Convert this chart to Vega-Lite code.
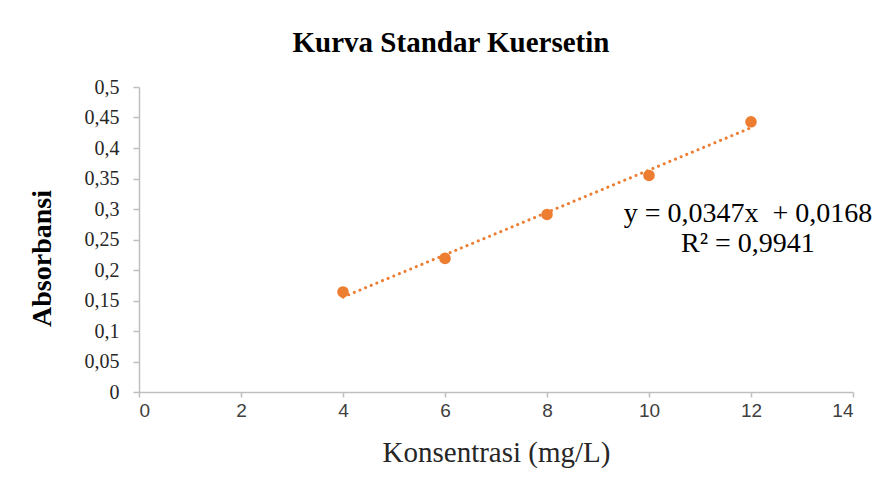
{
  "$schema": "https://vega.github.io/schema/vega-lite/v6.json",
  "autosize": "none",
  "width": 714,
  "height": 305,
  "padding": {"left": 139, "top": 87, "right": 30, "bottom": 94},
  "background": "white",
  "config": {"view": {"stroke": null}},
  "title": {
    "text": "Kurva Standar Kuersetin",
    "font": "Liberation Serif",
    "fontSize": 29,
    "fontWeight": "bold",
    "color": "#000000",
    "anchor": "middle",
    "dx": -45,
    "offset": 19
  },
  "datasets": {
    "points": [
      {"konsentrasi": 4, "absorbansi": 0.164},
      {"konsentrasi": 6, "absorbansi": 0.219},
      {"konsentrasi": 8, "absorbansi": 0.291},
      {"konsentrasi": 10, "absorbansi": 0.355},
      {"konsentrasi": 12, "absorbansi": 0.443}
    ],
    "labels": [
      {"konsentrasi": 11.94, "absorbansi": 0.292, "label": "y = 0,0347x \u00a0+ 0,0168"},
      {"konsentrasi": 11.94, "absorbansi": 0.243, "label": "R² = 0,9941"}
    ]
  },
  "encoding": {
    "x": {
      "field": "konsentrasi",
      "type": "quantitative",
      "scale": {"domain": [0, 14], "nice": false},
      "axis": {
        "values": [0, 2, 4, 6, 8, 10, 12, 14],
        "title": "Konsentrasi (mg/L)",
        "grid": false,
        "labelOverlap": false,
        "domainColor": "#BFBFBF",
        "domainWidth": 1.5,
        "tickColor": "#BFBFBF",
        "tickWidth": 1.5,
        "tickSize": 5,
        "labelFont": "Liberation Sans",
        "labelFontSize": 19,
        "labelColor": "#404040",
        "labelPadding": 4,
        "titleFont": "Liberation Serif",
        "titleFontSize": 29,
        "titleFontWeight": "normal",
        "titleColor": "#262626",
        "titlePadding": 18
      }
    },
    "y": {
      "field": "absorbansi",
      "type": "quantitative",
      "scale": {"domain": [0, 0.5], "nice": false},
      "axis": {
        "values": [0, 0.05, 0.1, 0.15, 0.2, 0.25, 0.3, 0.35, 0.4, 0.45, 0.5],
        "labelExpr": "replace(toString(datum.value), '.', ',')",
        "title": "Absorbansi",
        "grid": false,
        "labelOverlap": false,
        "domainColor": "#BFBFBF",
        "domainWidth": 1.5,
        "tickColor": "#BFBFBF",
        "tickWidth": 1.5,
        "tickSize": 6,
        "labelFont": "Liberation Serif",
        "labelFontSize": 20,
        "labelColor": "#262626",
        "labelPadding": 14,
        "titleFont": "Liberation Serif",
        "titleFontSize": 28,
        "titleFontWeight": "bold",
        "titleColor": "#000000",
        "titleY": 171,
        "titlePadding": 28
      }
    }
  },
  "layer": [
    {
      "data": {"name": "points"},
      "transform": [
        {"regression": "absorbansi", "on": "konsentrasi", "method": "linear", "extent": [4, 12]}
      ],
      "mark": {"type": "line", "color": "#ED7D31", "strokeWidth": 3, "strokeDash": [0.1, 6], "strokeCap": "round"}
    },
    {
      "data": {"name": "points"},
      "mark": {"type": "circle", "color": "#ED7D31", "opacity": 1, "size": 135}
    },
    {
      "data": {"name": "labels"},
      "mark": {"type": "text", "font": "Liberation Serif", "fontSize": 28, "color": "#000000", "align": "center", "baseline": "middle"},
      "encoding": {
        "text": {"field": "label"}
      }
    }
  ]
}
